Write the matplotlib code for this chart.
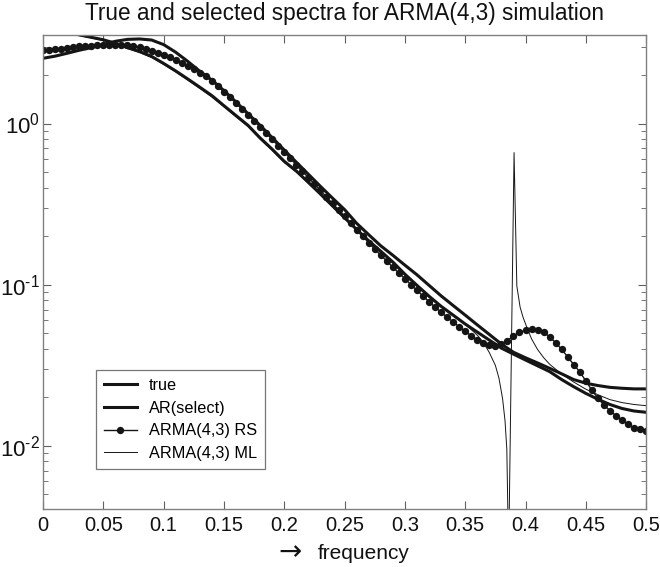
import numpy as np
import matplotlib
matplotlib.use("Agg")
import matplotlib.pyplot as plt
from matplotlib.ticker import FixedLocator, FixedFormatter, LogLocator, NullFormatter

plt.rcParams['font.family'] = ['Liberation Sans', 'DejaVu Sans']
plt.rcParams['mathtext.fontset'] = 'custom'
plt.rcParams['mathtext.rm'] = 'Liberation Sans'
plt.rcParams['mathtext.it'] = 'Liberation Sans:italic'

# frequency grids
freq = np.arange(0, 0.5001, 0.01)
freq_rs = np.arange(0, 0.5001, 0.005)

# true spectrum
true_psd = [3.85, 3.80, 3.70, 3.55, 3.43, 3.31, 3.15, 2.96, 2.80, 2.61,
            2.36, 2.12, 1.89, 1.68, 1.49, 1.29, 1.12, 0.973, 0.813, 0.692,
            0.582, 0.507, 0.431, 0.365, 0.308, 0.260, 0.220, 0.187, 0.161, 0.138,
            0.116, 0.0989, 0.0847, 0.0733, 0.0646, 0.0569, 0.0507, 0.0452, 0.0403, 0.0370,
            0.0340, 0.0313, 0.0288, 0.0257, 0.0232, 0.0211, 0.0194, 0.0180, 0.0170, 0.0164,
            0.0161]

# AR(select)
ar_psd = [2.54, 2.62, 2.73, 2.85, 2.96, 3.10, 3.24, 3.33, 3.35, 3.30,
          3.09, 2.77, 2.43, 2.11, 1.86, 1.60, 1.36, 1.15, 0.973, 0.817,
          0.684, 0.575, 0.484, 0.407, 0.344, 0.292, 0.240, 0.204, 0.174, 0.152,
          0.132, 0.115, 0.0989, 0.0851, 0.0741, 0.0646, 0.0562, 0.0490, 0.0427, 0.0380,
          0.0351, 0.0326, 0.0302, 0.0279, 0.0257, 0.0244, 0.0236, 0.0230, 0.0227, 0.0225,
          0.0225]

# ARMA(4,3) RS
rs_psd = [2.87, 2.88, 2.90, 2.92, 2.95, 2.98, 3.01, 3.03, 3.05, 3.06,
          3.08, 3.08, 3.08, 3.08, 3.06, 3.02, 2.97, 2.90, 2.83, 2.75,
          2.67, 2.58, 2.48, 2.37, 2.29, 2.18, 2.07, 1.96, 1.84, 1.70,
          1.57, 1.46, 1.34, 1.23, 1.13, 1.04, 0.953, 0.871, 0.796, 0.728,
          0.665, 0.607, 0.553, 0.506, 0.461, 0.421, 0.384, 0.350, 0.319, 0.291,
          0.265, 0.240, 0.219, 0.1995, 0.182, 0.166, 0.152, 0.140, 0.128, 0.118,
          0.109, 0.100, 0.092, 0.0849, 0.0783, 0.0724, 0.0673, 0.0627, 0.0585, 0.0547,
          0.0513, 0.0480, 0.0455, 0.0436, 0.0420, 0.0417, 0.0425, 0.0449, 0.0479, 0.0504,
          0.0520, 0.0530, 0.0525, 0.0506, 0.0473, 0.0435, 0.0396, 0.0355, 0.0318, 0.0287,
          0.0252, 0.0221, 0.0197, 0.0179, 0.0165, 0.0153, 0.0144, 0.0136, 0.0129, 0.0126,
          0.0124]

# ARMA(4,3) ML (finer near the pole/zero pair)
freq_ml = [0.00, 0.01, 0.02, 0.03, 0.04, 0.05, 0.06, 0.07, 0.08, 0.09,
           0.10, 0.11, 0.12, 0.13, 0.14, 0.15, 0.16, 0.17, 0.18, 0.19,
           0.20, 0.21, 0.22, 0.23, 0.24, 0.25, 0.26, 0.27, 0.28, 0.29,
           0.30, 0.31, 0.32, 0.33, 0.34, 0.35, 0.355, 0.36, 0.365, 0.37,
           0.375, 0.378, 0.381, 0.383, 0.3845, 0.386, 0.3905, 0.3928, 0.3955, 0.398,
           0.401, 0.405, 0.41, 0.415, 0.42, 0.43, 0.44, 0.45, 0.46, 0.47,
           0.48, 0.49, 0.50]
ml_psd = [3.80, 3.76, 3.66, 3.52, 3.40, 3.27, 3.11, 2.92, 2.76, 2.57,
          2.33, 2.09, 1.86, 1.65, 1.46, 1.27, 1.10, 0.957, 0.800, 0.681,
          0.573, 0.499, 0.425, 0.360, 0.304, 0.257, 0.217, 0.185, 0.159, 0.136,
          0.114, 0.0975, 0.0835, 0.0728, 0.0640, 0.0566, 0.0525, 0.0485, 0.0438, 0.0378,
          0.0315, 0.0262, 0.0195, 0.0143, 0.0095, 0.0020, 0.66, 0.098, 0.0725, 0.0625,
          0.0545, 0.0460, 0.0395, 0.0352, 0.0320, 0.0278, 0.0248, 0.0224, 0.0207, 0.0193,
          0.0185, 0.0180, 0.0177]

xticks = [0, 0.05, 0.1, 0.15, 0.2, 0.25, 0.3, 0.35, 0.4, 0.45, 0.5]
xticklabels = ['0', '0.05', '0.1', '0.15', '0.2', '0.25', '0.3', '0.35', '0.4', '0.45', '0.5']
yticks = [0.01, 0.1, 1.0]
yticklabels = [r'$10^{\text{-}2}$', r'$10^{\text{-}1}$', r'$10^{0}$']

fig = plt.figure(figsize=(6.6, 5.67), dpi=100)
ax = fig.add_axes([0.0652, 0.1023, 0.9138, 0.836])

ink = '#151515'
ax.semilogy(freq, true_psd, color=ink, lw=2.2, label='true')
ax.semilogy(freq, ar_psd, color=ink, lw=2.2, label='AR(select)')
ax.semilogy(freq_rs, rs_psd, color=ink, lw=1.0, marker='o', ms=5.3,
            markeredgewidth=0, label='ARMA(4,3) RS')
ax.semilogy(freq_ml, ml_psd, color=ink, lw=0.7, label='ARMA(4,3) ML')

ax.set_xlim(0, 0.5)
ax.set_ylim(0.00404, 3.546)
ax.set_xticks(xticks)
ax.set_xticklabels(xticklabels)
ax.yaxis.set_major_locator(FixedLocator(yticks))
ax.yaxis.set_major_formatter(FixedFormatter(yticklabels))
ax.yaxis.set_minor_locator(LogLocator(base=10, subs=np.arange(2, 10), numticks=20))
ax.yaxis.set_minor_formatter(NullFormatter())

for s in ax.spines.values():
    s.set_color('#808080')
    s.set_linewidth(1.0)
ax.tick_params(which='both', direction='in', top=True, right=True,
               color='#606060', labelsize=14.5, labelcolor='#111111')
ax.tick_params(which='major', length=6, pad=5)
ax.tick_params(axis='y', which='major', labelsize=16, pad=2)
ax.tick_params(which='minor', length=3.5)

ax.set_title('True and selected spectra for ARMA(4,3) simulation', fontsize=16.3, pad=11, color='#111111')

# x label: arrow drawn in DejaVu (larger glyph), word in Liberation Sans
fig.text(0.439, 0.027, '\u2192', fontsize=20, family='DejaVu Sans', color='#111111',
         ha='center', va='center')
fig.text(0.482, 0.014, 'frequency', fontsize=15, color='#111111', ha='left', va='baseline')

leg = ax.legend(loc='lower left', bbox_to_anchor=(0.088, 0.084), fontsize=11.7,
                frameon=True, fancybox=False, borderaxespad=0, labelspacing=0.47,
                handlelength=2.0, handletextpad=0.75, borderpad=0.5)
leg.get_frame().set_edgecolor('#555555')
leg.get_frame().set_linewidth(0.9)

fig.savefig('out.png', dpi=100)
